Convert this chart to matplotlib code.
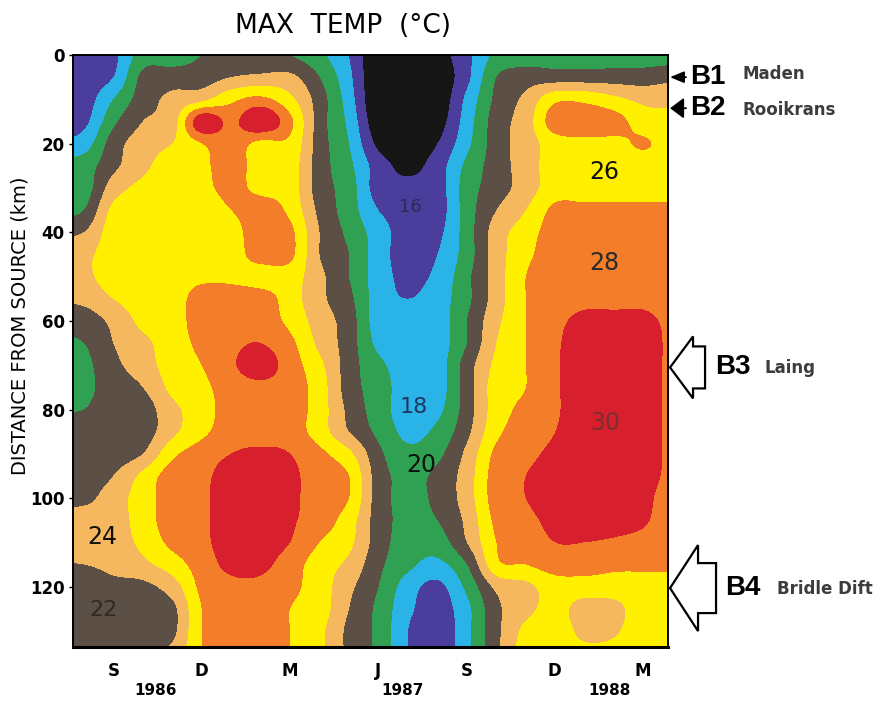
import matplotlib
matplotlib.use("Agg")
import matplotlib.pyplot as plt
import numpy as np
from matplotlib.colors import ListedColormap, BoundaryNorm
from matplotlib.patches import Polygon
from matplotlib.transforms import ScaledTranslation, blended_transform_factory, offset_copy

# time axis: months counted from Sep 1986 (S = 0), one column per month
month_pos = np.arange(-1, 20)
# distance from source, km, every 5 km
dist_km = np.arange(0, 140, 5)

# max temperature, one list per month column (top -> bottom)
max_temp = [
    [16, 16, 16, 16.5, 18, 20, 20, 21, 23, 24.5, 24.5, 23.5, 22, 21, 20.5, 20.5, 21, 22, 22, 22, 22.5, 24, 24, 23, 22, 22, 22, 22],
    [16.5, 17, 19, 20.5, 22, 22.5, 24, 25.5, 26, 26, 26, 25, 23.5, 23, 22.5, 22, 22, 22, 22, 23, 24, 24, 24, 23.5, 22.5, 22, 22, 22],
    [20, 21.5, 22, 23, 24, 24.5, 25.5, 26, 26, 26, 26, 26, 25.5, 24.5, 24, 23, 22, 22, 23, 25.5, 26, 26, 25.5, 24.5, 22.5, 22, 22, 22.5],
    [20, 22, 23.5, 24, 25, 26, 26, 26, 26, 26, 26, 26, 26, 26, 26, 25.5, 24.5, 24.5, 26.5, 28, 28, 28, 27.5, 26, 24, 22.5, 22.5, 23.5],
    [21, 22, 24.5, 30.5, 27, 26.5, 26.5, 26, 26, 26, 26.5, 28, 28, 27.5, 27, 26.5, 26, 26.5, 28, 28.5, 28.5, 28.5, 28.5, 28, 27.5, 27, 27, 27],
    [21, 23, 26.5, 28.5, 28, 28, 27.5, 27, 26, 26, 26.5, 28, 28, 28.5, 28.7, 28, 28, 28, 29, 30, 30.5, 30.5, 30, 29.5, 28.5, 28, 28, 28],
    [21, 23.5, 27.5, 31, 26.5, 26, 26.5, 28, 28.5, 28, 26, 28, 28, 29, 30, 28.5, 28, 28, 29.5, 30.5, 30.5, 30.5, 30, 29.5, 28.5, 28, 28, 28],
    [21, 23.5, 25.5, 27.5, 26.5, 26, 26, 26.5, 27.5, 27.5, 26, 26, 26.5, 27.5, 28, 28, 28, 28, 29, 29.5, 29.5, 29.3, 29, 28, 27.5, 27, 27, 27],
    [19.5, 21, 22, 22, 22, 22, 22, 22.5, 23, 23, 23.5, 23.5, 24, 24.5, 25.5, 26, 26, 26, 27.5, 28, 28, 28, 27, 26, 26, 26, 25.5, 25.5],
    [17, 17.5, 18, 18.5, 19, 19.5, 20, 20, 20.5, 21, 21, 21.5, 22, 22, 22, 22, 22.5, 23, 25.5, 27, 27, 26, 25.5, 24.5, 23.5, 23, 22.5, 22.5],
    [13, 13, 13, 13.5, 14.5, 16, 16, 17, 18, 18, 18, 18, 18, 18.5, 19.5, 20, 20, 20.5, 21.5, 22, 22, 22, 22, 21.5, 21, 20.5, 20.5, 20.5],
    [13, 13, 13, 13, 13.5, 14.5, 15.5, 16, 16, 16, 16.5, 17, 18, 18, 18, 18, 18, 18.5, 19.5, 20.5, 20.5, 20.5, 20, 19.5, 18, 17.5, 17, 17],
    [14, 13.5, 13.5, 14, 15, 16, 16, 16, 16.5, 17, 17.5, 18, 18, 18, 18, 18, 18.5, 19.5, 20.5, 21.5, 21.5, 21, 20, 18.5, 16.5, 16, 15.5, 15.5],
    [16.5, 16.5, 17.5, 18, 18.5, 19.5, 20, 20, 20, 20, 20.5, 20.5, 21, 21, 22, 22, 22, 22.5, 23.5, 24, 24, 23.5, 23, 21, 19.5, 18.5, 18.5, 18.5],
    [19.5, 21, 21.5, 22, 22, 22, 22, 23, 24, 24, 24, 24, 24.5, 25, 25.5, 26, 26, 26.5, 27.5, 28, 28, 27.5, 27, 26.5, 23.5, 22.5, 22.5, 22.5],
    [20, 22, 23.5, 24, 24, 24, 24, 25, 26, 26.5, 27, 27, 27, 27, 27, 27, 27.5, 28, 28.5, 29, 29, 28.5, 28, 27, 24.5, 24.5, 25.5, 26],
    [20, 22, 26.5, 28.2, 26, 26, 26, 27.5, 28, 28, 28, 28, 28.5, 28.7, 28.7, 28.7, 28.7, 29, 29.5, 30, 30, 29.5, 29, 28, 26, 25.5, 26, 26],
    [20, 22, 26.5, 28.2, 26.5, 26, 26, 27.5, 28, 28, 28, 28.5, 29.5, 30, 30.5, 30.5, 30.5, 30.5, 30.5, 30.5, 30, 29.5, 29, 28, 26, 24.3, 24.5, 25.5],
    [20, 22, 25.5, 27.8, 26.5, 26, 26, 27.5, 28, 28, 28, 28.5, 29.5, 30, 30.5, 30.5, 30.5, 30.5, 30.5, 30.5, 30, 29.5, 28.8, 27.5, 26, 24.5, 24.8, 25.5],
    [20, 22, 24.5, 26, 27.2, 26, 26, 27.5, 28, 28, 28, 28.5, 29.5, 30, 30, 30, 30, 30, 30, 29.8, 29.5, 29.2, 28.5, 27.5, 26, 26, 26, 26],
    [20, 22.5, 24.5, 25.5, 26, 26, 26, 27.5, 28, 28, 28, 28, 28.5, 28.5, 28.5, 28.5, 28.5, 28.5, 28.5, 28.5, 28, 28, 28, 27.5, 26, 26, 26, 26],
]

levels = [0, 15, 17, 19, 21, 23, 25, 27, 29, 40]
level_colors = ["#161616", "#4a3d9c", "#2ab3e6", "#30a052", "#5b4f46",
                "#f6b85e", "#fff000", "#f47d2a", "#d81f2d"]

month_ticks = [0, 3, 6, 9, 12, 15, 18]
month_labels = ["S", "D", "M", "J", "S", "D", "M"]
year_pos = [1.43, 9.83, 16.87]
year_labels = ["1986", "1987", "1988"]

# numbers written inside the bands
band_text = ["16", "18", "20", "22", "24", "26", "28", "30"]
band_t = [10.1, 10.2, 10.45, -0.34, -0.37, 16.67, 16.67, 16.73]
band_d = [34.3, 79.5, 92.5, 125.3, 108.8, 26.4, 46.9, 83.1]
band_size = [13, 16, 17, 16, 17, 17, 17, 17]
band_color = ["#2b2a55", "#1f3560", "#111111", "#2e2a28", "#111111", "#111111", "#2a2a2a", "#7a3030"]

# sampling stations
station = ["B1", "B2", "B3", "B4"]
station_name = ["Maden", "Rooikrans", "Laing", "Bridle Dift"]
station_km = [5.0, 12.0, 70.5, 120.3]

grid = np.array(max_temp).T

fig = plt.figure(figsize=(8.86, 7.01), dpi=100)
ax = fig.add_axes([0.0824, 0.0770, 0.6716, 0.8445])

cmap = ListedColormap(level_colors)
norm = BoundaryNorm(levels, cmap.N)
step_t = month_pos[1] - month_pos[0]
step_d = dist_km[1] - dist_km[0]
ax.imshow(grid, cmap=cmap, norm=norm, aspect="auto", origin="upper",
          interpolation="catrom", interpolation_stage="data",
          extent=(month_pos[0] - step_t / 2, month_pos[-1] + step_t / 2,
                  dist_km[-1] + step_d / 2, dist_km[0] - step_d / 2))
ax.set_xlim(-1.37, 18.85)
ax.set_ylim(133.6, 0)

for txt, t, d, s, c in zip(band_text, band_t, band_d, band_size, band_color):
    ax.text(t, d, txt, ha="center", va="center", fontsize=s, color=c)

ax.set_yticks([0, 20, 40, 60, 80, 100, 120])
ax.set_yticklabels(["0", "20", "40", "60", "80", "100", "120"], fontsize=12, fontweight="bold")
ax.tick_params(axis="y", direction="out", length=3, width=1, pad=3)
ax.set_xticks(month_ticks)
ax.set_xticklabels(month_labels, fontsize=12, fontweight="bold")
ax.tick_params(axis="x", length=0, pad=11)

xyears = blended_transform_factory(ax.transData, ax.transAxes)
for t, y in zip(year_pos, year_labels):
    ax.text(t, -0.073, y, transform=xyears, ha="center", va="center",
            fontsize=11, fontweight="bold")

for sp in ax.spines.values():
    sp.set_linewidth(1.4)
ax.spines["bottom"].set_linewidth(2.2)

fig.text(0.387, 0.963, "MAX  TEMP  (°C)", ha="center", va="center", fontsize=19)
fig.text(0.023, 0.535, "DISTANCE FROM SOURCE (km)", rotation=90,
         ha="center", va="center", fontsize=14)

# station markers on the right
edge = blended_transform_factory(ax.transAxes, ax.transData)
text_dx = [22, 22, 47, 57]
name_dx = [74, 74, 96, 109]
name_dy = [3, -2, -1, -1]
for i, (lab, name, km) in enumerate(zip(station, station_name, station_km)):
    ax.text(1.0, km, lab, transform=offset_copy(edge, fig, x=text_dx[i], y=0, units="dots"),
            ha="left", va="center", fontsize=20, fontweight="bold",
            family="Liberation Sans", clip_on=False)
    ax.text(1.0, km, name, transform=offset_copy(edge, fig, x=name_dx[i], y=name_dy[i], units="dots"),
            ha="left", va="center", fontsize=12, fontweight="bold",
            color="#3c3c3c", clip_on=False)

# small arrows for B1, B2
for km, hw in zip(station_km[:2], [0.25, 0.45]):
    ax.annotate("", xy=(1.0, km), xycoords=offset_copy(edge, fig, x=2, y=0, units="dots"),
                xytext=(16, 0), textcoords="offset pixels",
                arrowprops=dict(arrowstyle="-|>,head_length=0.6,head_width=%s" % hw,
                                color="black", lw=1.3, shrinkA=0, shrinkB=0,
                                mutation_scale=14))

# hollow block arrows for B3, B4 (pixel shapes, tip at axis edge)
arrow_shape = [
    [(2, 0), (25, 31), (25, 21), (37, 21), (37, -21), (25, -21), (25, -31)],
    [(2, 0), (30, 43), (30, 25), (48, 25), (48, -25), (30, -25), (30, -43)],
]
for km, shp in zip(station_km[2:], arrow_shape):
    verts = np.array(shp) / fig.dpi
    tr = fig.dpi_scale_trans + ScaledTranslation(1.0, km, edge)
    ax.add_patch(Polygon(verts, closed=True, facecolor="white", edgecolor="black",
                         lw=1.6, transform=tr, clip_on=False))

fig.savefig("out.png", dpi=100)
